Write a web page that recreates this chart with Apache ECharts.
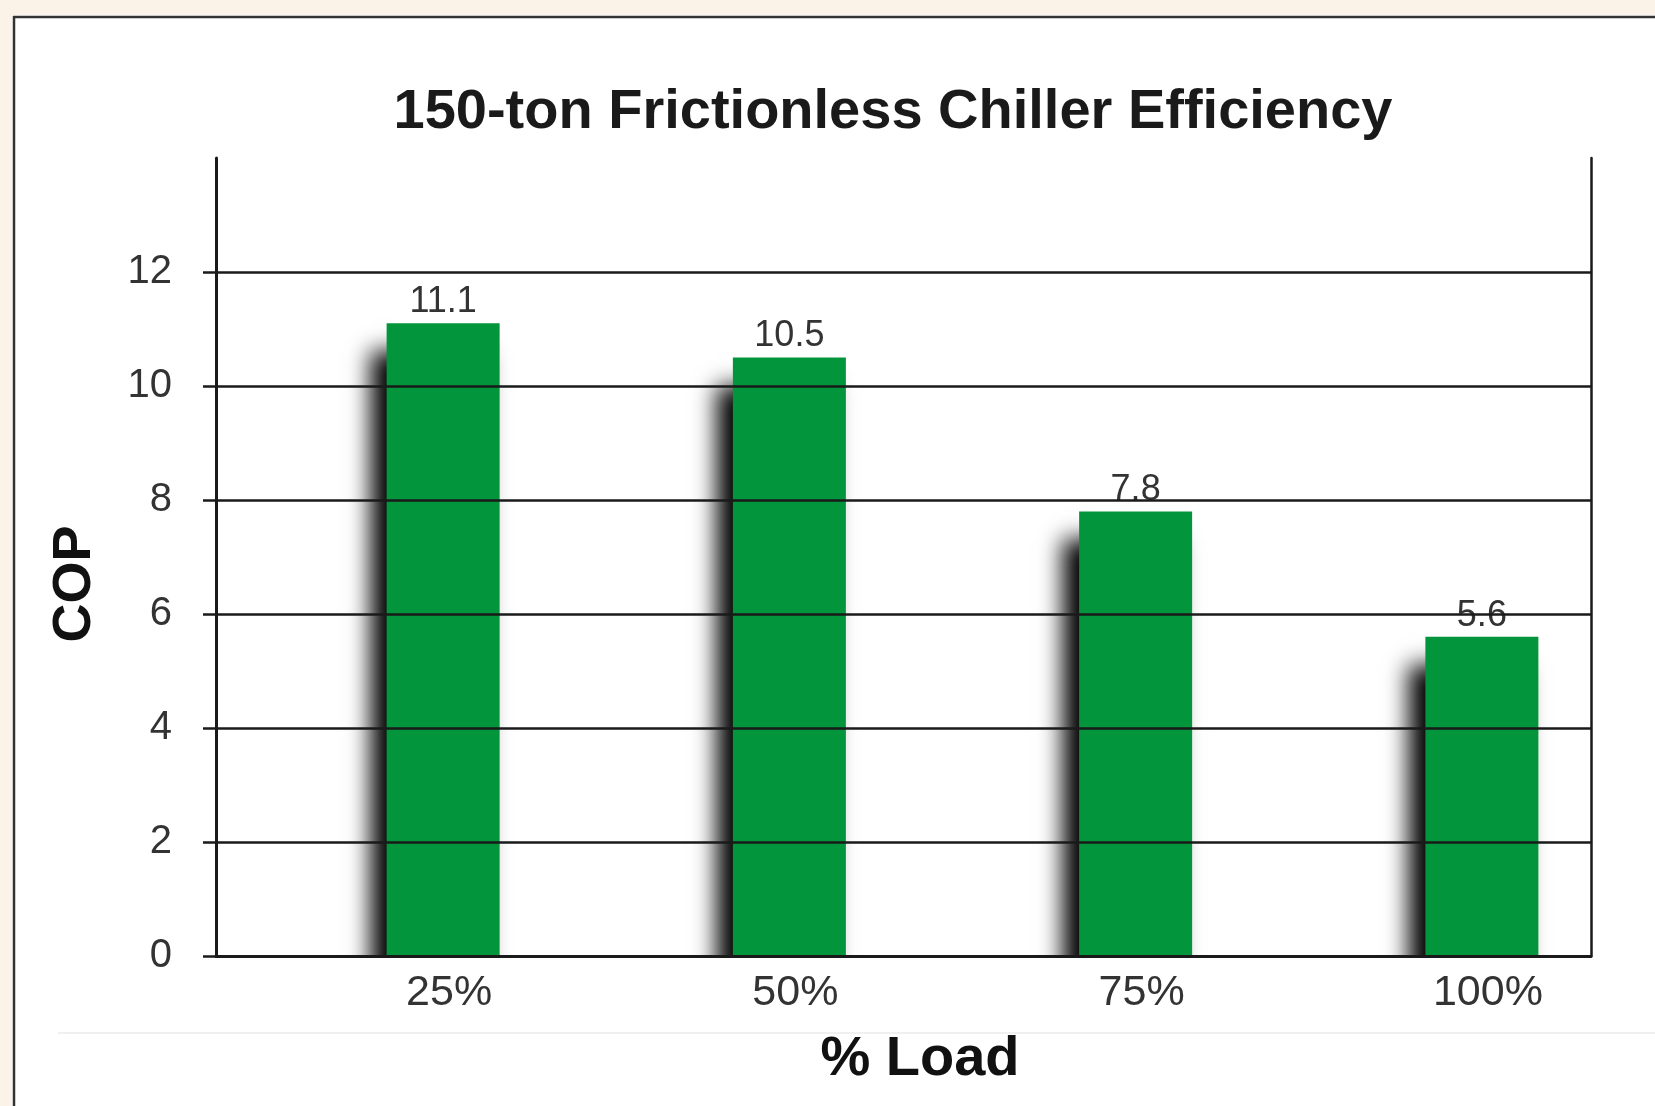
<!DOCTYPE html>
<html>
<head>
<meta charset="utf-8">
<script src="https://cdn.jsdelivr.net/npm/echarts@6/dist/echarts.min.js"></script>
<style>
  html, body { margin: 0; padding: 0; background: #fff; }
  #chart { width: 1655px; height: 1106px; }
</style>
</head>
<body>
<div id="chart"></div>
<script>
  // data
  var loads = ['25%', '50%', '75%', '100%'];
  var cop = [11.1, 10.5, 7.8, 5.6];
  var yTicks = [0, 2, 4, 6, 8, 10, 12];

  var myChart = echarts.init(document.getElementById('chart'));
  var textFont = 'Liberation Sans, Arial, sans-serif';

  var option = {
    backgroundColor: '#ffffff',
    animation: false,
    title: {
      text: '150-ton Frictionless Chiller Efficiency',
      left: 888,
      top: 80,
      textAlign: 'center',
      textStyle: { fontFamily: textFont, fontSize: 56, fontWeight: 'bold', color: '#1a1a1a' }
    },
    grid: [
      // frame with axes and gridlines
      { left: 216, top: 158, width: 1375, height: 798 },
      // bars, shifted to the right like in the original
      { left: 270, top: 158, width: 1385, height: 798 }
    ],
    xAxis: [
      {
        type: 'category', gridIndex: 0, data: loads, z: 10,
        axisLine: { lineStyle: { color: '#1a1a1a', width: 3 } },
        axisTick: { show: false },
        axisLabel: { show: false }
      },
      {
        type: 'category', gridIndex: 1, data: loads, z: 10,
        axisLine: { show: false },
        axisTick: { show: false },
        axisLabel: { fontFamily: textFont, fontSize: 43, color: '#333', margin: 16, padding: [0, 0, 0, 12] }
      }
    ],
    yAxis: [
      {
        type: 'value', gridIndex: 0, min: 0, max: 14, interval: 2, z: 10,
        axisLine: { show: true, lineStyle: { color: '#1a1a1a', width: 3 } },
        axisTick: { show: true, length: 13, customValues: yTicks, lineStyle: { color: '#1a1a1a', width: 2.5 } },
        axisLabel: { customValues: yTicks, fontFamily: textFont, fontSize: 40, color: '#333', margin: 44 },
        splitLine: { show: true, lineStyle: { color: '#1a1a1a', width: 2.5 } }
      },
      {
        type: 'value', gridIndex: 0, position: 'right', min: 0, max: 14, interval: 2,
        axisLine: { show: true, lineStyle: { color: '#1a1a1a', width: 2.5 } },
        axisTick: { show: false },
        axisLabel: { show: false },
        splitLine: { show: false }
      },
      {
        type: 'value', gridIndex: 1, min: 0, max: 14, interval: 2, show: false
      }
    ],
    series: [
      {
        name: 'COP',
        type: 'bar',
        xAxisIndex: 1,
        yAxisIndex: 2,
        barWidth: 113,
        data: cop,
        itemStyle: {
          color: '#03953b',
          shadowColor: 'rgba(0,0,0,1)',
          shadowBlur: 22,
          shadowOffsetX: -16,
          shadowOffsetY: 28
        },
        label: {
          show: true,
          position: 'top',
          distance: 3,
          fontFamily: textFont,
          fontSize: 36,
          color: '#333',
          backgroundColor: '#ffffff',
          padding: [0, 16]
        }
      }
    ],
    graphic: [
      // beige page edge and frame border
      { type: 'rect', shape: { x: 0, y: 0, width: 1655, height: 15 }, style: { fill: '#fbf2e8' }, silent: true },
      { type: 'rect', shape: { x: 0, y: 0, width: 12, height: 1106 }, style: { fill: '#fbf2e8' }, silent: true },
      { type: 'line', shape: { x1: 13, y1: 17, x2: 1655, y2: 17 }, style: { stroke: '#333', lineWidth: 2.5 }, silent: true },
      { type: 'line', shape: { x1: 14, y1: 16, x2: 14, y2: 1106 }, style: { stroke: '#333', lineWidth: 2.5 }, silent: true },
      // hide the part of the bar shadow that drops below the x axis
      { type: 'rect', z: 5, shape: { x: 218, y: 958, width: 1372, height: 70 }, style: { fill: '#ffffff' }, silent: true },
      // faint separator under the axis labels
      { type: 'line', shape: { x1: 58, y1: 1033, x2: 1655, y2: 1033 }, style: { stroke: '#f0f0f2', lineWidth: 2 }, silent: true },
      {
        type: 'text', x: 75, y: 584, rotation: Math.PI / 2,
        style: { text: 'COP', font: 'bold 54px ' + textFont, fill: '#111', textAlign: 'center', textVerticalAlign: 'middle' }
      },
      {
        type: 'text', x: 920, y: 1060,
        style: { text: '% Load', font: 'bold 56px ' + textFont, fill: '#111', textAlign: 'center', textVerticalAlign: 'middle' }
      }
    ]
  };

  myChart.setOption(option);
</script>
</body>
</html>
